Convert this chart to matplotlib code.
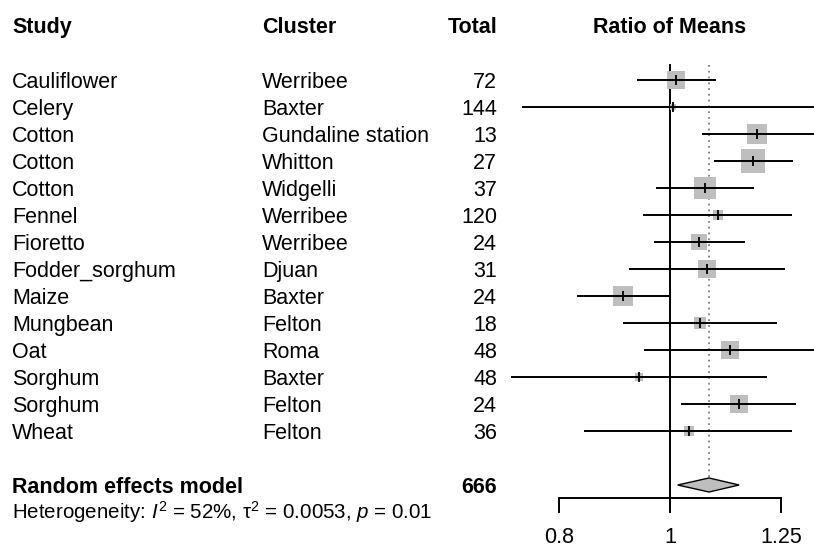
import numpy as np
import matplotlib
matplotlib.use("Agg")
import matplotlib.pyplot as plt
from matplotlib.transforms import blended_transform_factory
from matplotlib.patches import Polygon

# Study-level data
studies = ["Cauliflower", "Celery", "Cotton", "Cotton", "Cotton", "Fennel", "Fioretto",
           "Fodder_sorghum", "Maize", "Mungbean", "Oat", "Sorghum", "Sorghum", "Wheat"]
clusters = ["Werribee", "Baxter", "Gundaline station", "Whitton", "Widgelli", "Werribee",
            "Werribee", "Djuan", "Baxter", "Felton", "Roma", "Baxter", "Felton", "Felton"]
totals = [72, 144, 13, 27, 37, 120, 24, 31, 24, 18, 48, 48, 24, 36]
ratio = [1.012, 1.007, 1.192, 1.182, 1.073, 1.101, 1.061, 1.078, 0.909, 1.062, 1.128, 0.940, 1.148, 1.038]
ci_low = [0.935, 0.743, 1.066, 1.093, 0.973, 0.948, 0.968, 0.921, 0.829, 0.909, 0.950, 0.726, 1.022, 0.842]
ci_high = [1.096, 1.380, 1.360, 1.280, 1.184, 1.279, 1.163, 1.260, 1.000, 1.240, 1.380, 1.215, 1.288, 1.279]
weights = [8.0, 0.7, 11.1, 14.7, 12.3, 2.2, 6.2, 9.0, 11.1, 4.0, 8.0, 1.8, 8.0, 2.8]

# Random effects summary
re_est = 1.0815
re_low = 1.0156
re_high = 1.149
heterogeneity = r"Heterogeneity: $I^2$ = 52%, τ$^{2}$ = 0.0053, $p$ = 0.01"

xticks = [0.8, 1, 1.25]
xtick_labels = ["0.8", "1", "1.25"]

plt.rcParams["font.family"] = ["Liberation Sans", "DejaVu Sans"]
plt.rcParams["mathtext.fontset"] = "custom"
plt.rcParams["mathtext.rm"] = "Liberation Sans"
plt.rcParams["mathtext.it"] = "Liberation Sans:italic"
plt.rcParams["mathtext.bf"] = "Liberation Sans:bold"

W, H = 814, 548
fig = plt.figure(figsize=(W / 100, H / 100), dpi=100)

# Forest panel: log-scaled x, one row unit per study
ax = fig.add_axes([505 / W, 0, 1 - 505 / W, 1])
ax.set_xscale("log")
ax.set_xlim(0.7177, 1.3357)
row_px = 27.0
first_row_px = 80.0
ax.set_ylim((H - first_row_px) / row_px, -first_row_px / row_px)
ax.axis("off")

n = len(studies)
rows = np.arange(n)
diamond_row = n + 1
axis_row = diamond_row + 0.48
base = 0.28  # baseline offset of text below the row centre

fs = 15.5
tr = blended_transform_factory(fig.transFigure, ax.transData)

# Column headers
hdr_row = -1.73
ax.text(12 / W, hdr_row, "Study", transform=tr, fontsize=fs, fontweight="bold", va="baseline")
ax.text(262 / W, hdr_row, "Cluster", transform=tr, fontsize=fs, fontweight="bold", va="baseline")
ax.text(497 / W, hdr_row, "Total", transform=tr, fontsize=fs, fontweight="bold",
        va="baseline", ha="right")
ax.text(1.0, hdr_row, "Ratio of Means", fontsize=fs, fontweight="bold", va="baseline",
        ha="center")

# Study rows
for i in range(n):
    y = rows[i] + base
    ax.text(12 / W, y, studies[i], transform=tr, fontsize=fs, va="baseline")
    ax.text(262 / W, y, clusters[i], transform=tr, fontsize=fs, va="baseline")
    ax.text(497 / W, y, str(totals[i]), transform=tr, fontsize=fs, va="baseline", ha="right")

# Summary row
ax.text(12 / W, diamond_row + base, "Random effects model", transform=tr, fontsize=fs,
        fontweight="bold", va="baseline")
ax.text(497 / W, diamond_row + base, str(sum(totals)), transform=tr, fontsize=fs,
        fontweight="bold", va="baseline", ha="right")
ax.text(12 / W, 16.24, heterogeneity, transform=tr, fontsize=fs * 0.95, va="baseline")

# Reference lines
ax.plot([1, 1], [-0.55, axis_row], color="black", lw=1.4, zorder=1)
ax.plot([re_est, re_est], [-0.55, diamond_row - 0.27], color="#808080", lw=1.3,
        linestyle=(0, (1, 2.2)), zorder=1)

# Boxes sized by weight, CI lines and point ticks
box_scale = 20.5 / np.sqrt(11.1)
for i in range(n):
    side_px = box_scale * np.sqrt(weights[i])
    ax.plot(ratio[i], rows[i], marker="s", markersize=side_px * 0.72, color="#BEBEBE",
            markeredgewidth=0, zorder=2)
    ax.plot([ci_low[i], ci_high[i]], [rows[i], rows[i]], color="black", lw=1.4, zorder=3,
            solid_capstyle="butt")
    ax.plot(ratio[i], rows[i], marker="|", markersize=7, color="black",
            markeredgewidth=1.3, zorder=4)

# Summary diamond
dh = 0.26
diamond = Polygon([[re_low, diamond_row], [re_est, diamond_row - dh],
                   [re_high, diamond_row], [re_est, diamond_row + dh]],
                  closed=True, facecolor="#BEBEBE", edgecolor="black", lw=1.0, zorder=3)
ax.add_patch(diamond)

# X axis drawn below the summary
tick_len = 0.52
ax.plot([xticks[0], xticks[-1]], [axis_row, axis_row], color="black", lw=1.4,
        solid_capstyle="butt")
for t, lab in zip(xticks, xtick_labels):
    ax.plot([t, t], [axis_row, axis_row + tick_len], color="black", lw=1.4)
    ax.text(t, 17.13, lab, fontsize=fs, ha="center", va="baseline")

fig.savefig("out.png", dpi=100)
